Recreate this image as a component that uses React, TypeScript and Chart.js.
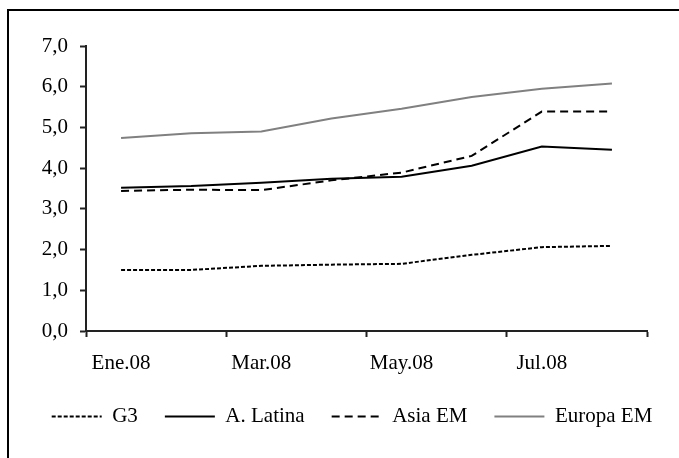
import React, { useEffect, useRef } from "react";
import { Chart, registerables } from "chart.js";

Chart.register(...registerables);

const categories = ["Ene.08", "Feb.08", "Mar.08", "Abr.08", "May.08", "Jun.08", "Jul.08", "Ago.08"];
const g3 = [1.5, 1.5, 1.6, 1.63, 1.65, 1.87, 2.06, 2.09];
const aLatina = [3.52, 3.56, 3.64, 3.74, 3.79, 4.06, 4.53, 4.45];
const asiaEM = [3.44, 3.47, 3.46, 3.7, 3.89, 4.3, 5.39, 5.39];
const europaEM = [4.74, 4.86, 4.9, 5.22, 5.46, 5.75, 5.95, 6.08];
const yTickLabels = ["0,0", "1,0", "2,0", "3,0", "4,0", "5,0", "6,0", "7,0"];

const FONT = "'Times New Roman', 'Liberation Serif', serif";
const AXIS = "#222";

export default function App() {
  const ref = useRef<HTMLCanvasElement | null>(null);
  useEffect(() => {
    if (!ref.current) return;
    const chart = new Chart(ref.current, {
      type: "line",
      data: {
        labels: categories,
        datasets: [
          { label: "G3", data: g3, borderColor: "#000", borderWidth: 2, borderDash: [4, 2], yAxisID: "y" },
          { label: "A. Latina", data: aLatina, borderColor: "#000", borderWidth: 2, yAxisID: "y" },
          { label: "Asia EM", data: asiaEM, borderColor: "#000", borderWidth: 2, borderDash: [8, 5], yAxisID: "y" },
          { label: "Europa EM", data: europaEM, borderColor: "#808080", borderWidth: 2, yAxisID: "y" },
        ],
      },
      options: {
        responsive: false,
        animation: false,
        elements: { point: { radius: 0 }, line: { tension: 0, fill: false } },
        layout: { padding: { top: 34, right: 0, left: 0, bottom: 21 } },
        plugins: {
          tooltip: { enabled: false },
          legend: {
            position: "bottom",
            labels: {
              usePointStyle: true,
              pointStyle: "line",
              pointStyleWidth: 50,
              boxWidth: 50,
              padding: 27,
              color: "#000",
              font: { family: FONT, size: 21 },
              generateLabels: (ch: any) => {
                const items = Chart.defaults.plugins.legend.labels.generateLabels(ch);
                items.forEach((it: any, i: number) => {
                  const ds: any = ch.data.datasets[i];
                  it.lineDash = ds.borderDash || [];
                  it.strokeStyle = ds.borderColor;
                  it.lineWidth = ds.borderWidth;
                  it.pointStyle = "line";
                });
                return items;
              },
            },
          },
        },
        scales: {
          x: {
            offset: true,
            afterFit: (s: any) => { s.height = 48; },
            grid: {
              offset: true,
              drawOnChartArea: false,
              drawTicks: true,
              tickLength: 6,
              tickWidth: 2,
              tickColor: (ctx: any) =>
                ctx.index === undefined || ctx.index % 2 === 0 ? AXIS : "rgba(0,0,0,0)",
            },
            border: { display: true, color: AXIS, width: 2 },
            ticks: {
              autoSkip: false,
              maxRotation: 0,
              padding: 14,
              color: "#000",
              font: { family: FONT, size: 21 },
              callback: (_v: any, i: number) => (i % 2 === 0 ? categories[i] : ""),
            },
          },
          y: {
            min: 0,
            max: 7,
            position: "left",
            afterFit: (s: any) => { s.width = 76; },
            grid: {
              drawOnChartArea: false,
              drawTicks: true,
              tickLength: 6,
              tickWidth: 2,
              tickColor: AXIS,
            },
            border: { display: true, color: AXIS, width: 2 },
            ticks: {
              stepSize: 1,
              padding: 12,
              color: "#000",
              font: { family: FONT, size: 21 },
              callback: (v: any) => yTickLabels[Math.round(Number(v))],
            },
          },
          spacer: {
            type: "linear",
            position: "right",
            min: 0,
            max: 7,
            afterFit: (s: any) => { s.width = 47; },
            grid: { display: false, drawOnChartArea: false },
            border: { display: false },
            ticks: { display: false },
          },
        },
      },
    });
    return () => chart.destroy();
  }, []);

  return (
    <div style={{ position: "fixed", left: 0, top: 0, width: 679, height: 458, overflow: "hidden", background: "#fff" }}>
      <div
        style={{
          position: "absolute",
          left: 7,
          top: 9,
          width: 700,
          height: 480,
          borderLeft: "2px solid #000",
          borderTop: "2px solid #000",
          boxSizing: "border-box",
        }}
      />
      <canvas ref={ref} width={684} height={446} style={{ position: "absolute", left: 10, top: 12 }} />
    </div>
  );
}
